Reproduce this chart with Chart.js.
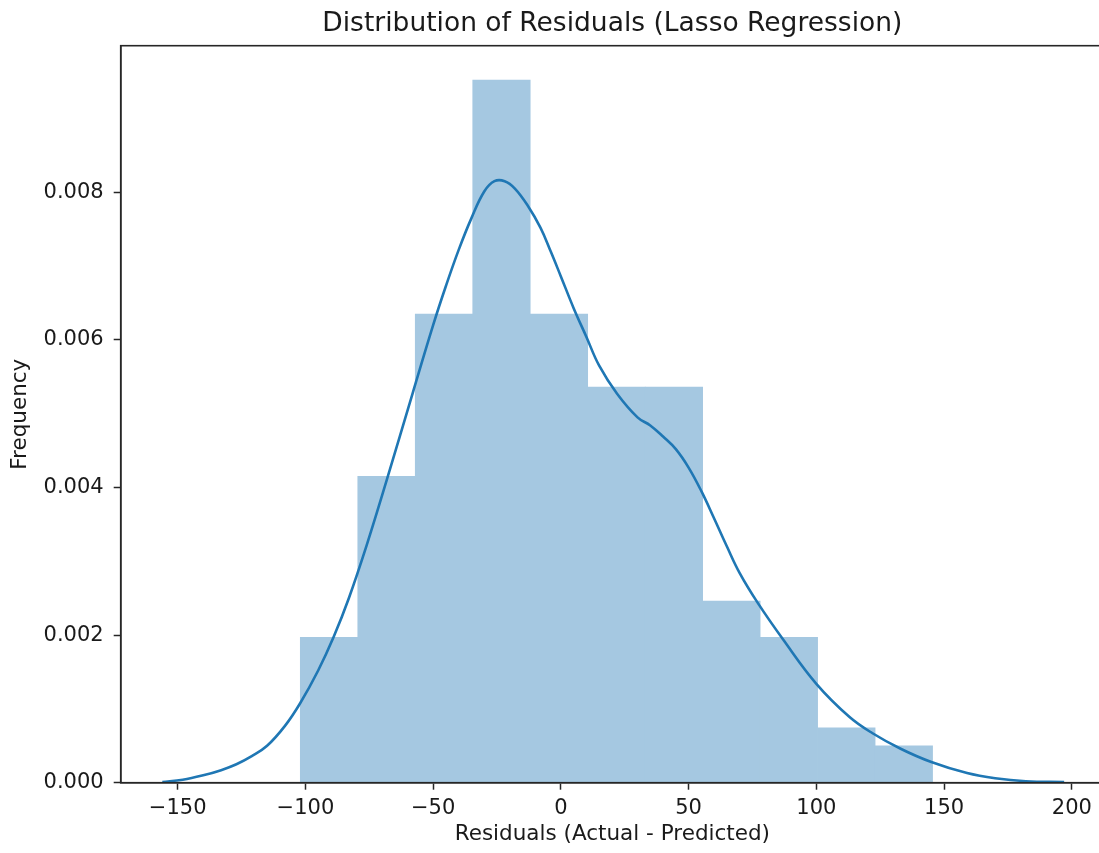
<!DOCTYPE html>
<html>
<head>
<meta charset="utf-8">
<script src="https://cdn.jsdelivr.net/npm/chart.js@4.4.0/dist/chart.umd.min.js"></script>
<style>
  html, body { margin: 0; padding: 0; background: #ffffff; overflow: hidden; }
  #chartWrap { width: 1104px; height: 853px; }
</style>
</head>
<body>
<div id="chartWrap"><canvas id="residualsCanvas"></canvas></div>
<script>
// Histogram bins (edges) and densities
const binEdges = [-102, -79.5, -57, -34.5, -12, 10.5, 33, 55.5, 78, 100.5, 123, 145.5];
const binDensity = [0.00197, 0.00415, 0.00635, 0.00952, 0.00635, 0.00536, 0.00536, 0.00246, 0.00197, 0.000745, 0.0005];

// KDE curve samples
const kdeX = [-156, -148, -140, -133, -127, -121, -115, -108, -102, -95, -89, -83, -76, -68, -58, -50, -45, -40, -35, -30,
  -26, -22, -18, -13, -8, -4, 0, 5, 10, 15, 22, 30, 35, 40, 45, 50, 55, 60, 65, 70, 77, 87, 100, 113, 122, 133, 145, 159,
  170, 182, 197];
const kdeY = [0.00001, 0.00004, 0.0001, 0.00017, 0.00025, 0.00036, 0.0005, 0.00077, 0.00108, 0.00152, 0.00197, 0.0025,
  0.00322, 0.00412, 0.00528, 0.0062, 0.00673, 0.00722, 0.00765, 0.00801, 0.00815, 0.00815, 0.00805, 0.00782, 0.00752,
  0.0072, 0.00686, 0.00643, 0.00604, 0.00565, 0.00527, 0.00495, 0.00484, 0.00469, 0.00452, 0.00427, 0.00395, 0.00358,
  0.0032, 0.00284, 0.00244, 0.00194, 0.00134, 0.00089, 0.00067, 0.00046, 0.00028, 0.00013, 0.00006, 0.00002, 0.00001];

// Axis ticks
const xTicks = [-150, -100, -50, 0, 50, 100, 150, 200];
const yTicks = [0, 0.002, 0.004, 0.006, 0.008];

const FONT = "'DejaVu Sans', sans-serif";
const INK = '#262626';

const barPoints = binDensity.map((d, i) => ({ x: (binEdges[i] + binEdges[i + 1]) / 2, y: d }));
const kdePoints = kdeX.map((x, i) => ({ x: x, y: kdeY[i] }));

// top/right spine of the axes box
const framePlugin = {
  id: 'frame',
  afterDraw(chart) {
    const { ctx, chartArea } = chart;
    ctx.save();
    ctx.strokeStyle = INK;
    ctx.lineWidth = 1.6;
    ctx.strokeRect(chartArea.left, chartArea.top, chartArea.right - chartArea.left, chartArea.bottom - chartArea.top);
    ctx.restore();
  }
};

const ctx = document.getElementById('residualsCanvas').getContext('2d');
new Chart(ctx, {
  type: 'bar',
  data: {
    datasets: [
      {
        type: 'line',
        label: 'KDE',
        data: kdePoints,
        borderColor: '#1f77b4',
        borderWidth: 2.6,
        pointRadius: 0,
        fill: false,
        tension: 0.4,
        order: 0
      },
      {
        label: 'Residuals',
        data: barPoints,
        backgroundColor: '#a5c8e1',
        borderWidth: 0,
        barPercentage: 1,
        categoryPercentage: 1,
        order: 1
      }
    ]
  },
  options: {
    responsive: true,
    maintainAspectRatio: false,
    animation: false,
    layout: { padding: 0 },
    plugins: {
      legend: { display: false },
      tooltip: { enabled: false },
      title: {
        display: true,
        fullSize: false,  // centre over the axes, not the canvas
        text: 'Distribution of Residuals (Lasso Regression)',
        color: '#1a1a1a',
        font: { family: FONT, size: 26.5, weight: 'normal', lineHeight: 1.2 },
        padding: { top: 8.1, bottom: 5.8 }
      }
    },
    scales: {
      x: {
        type: 'linear',
        min: -172.3,
        max: 212.6,
        offset: false,
        grid: { offset: false, drawOnChartArea: false, drawTicks: true, tickLength: 7, tickColor: INK, tickWidth: 1.5 },
        border: { display: true, color: INK, width: 1.6 },
        afterBuildTicks: scale => { scale.ticks = xTicks.map(v => ({ value: v })); },
        afterFit: scale => { scale.height = 70.3; },
        ticks: {
          color: '#1a1a1a',
          font: { family: FONT, size: 21 },
          padding: 6,
          maxRotation: 0,
          callback: v => (v < 0 ? '\u2212' + Math.abs(v) : String(v))
        },
        title: {
          display: true,
          text: 'Residuals (Actual - Predicted)',
          color: '#1a1a1a',
          font: { family: FONT, size: 21.5 },
          padding: { top: 0, bottom: 6 }
        }
      },
      y: {
        min: 0,
        max: 0.009986,
        grid: { drawOnChartArea: false, drawTicks: true, tickLength: 7, tickColor: INK, tickWidth: 1.5 },
        border: { display: true, color: INK, width: 1.6 },
        afterBuildTicks: scale => { scale.ticks = yTicks.map(v => ({ value: v })); },
        afterFit: scale => { scale.width = 120.7; },
        ticks: {
          color: '#1a1a1a',
          font: { family: FONT, size: 21 },
          padding: 10,
          callback: v => v.toFixed(3)
        },
        title: {
          display: true,
          text: 'Frequency',
          color: '#1a1a1a',
          font: { family: FONT, size: 21.5 },
          padding: { top: 8, bottom: 0 }
        }
      }
    }
  },
  plugins: [framePlugin]
});
</script>
</body>
</html>
